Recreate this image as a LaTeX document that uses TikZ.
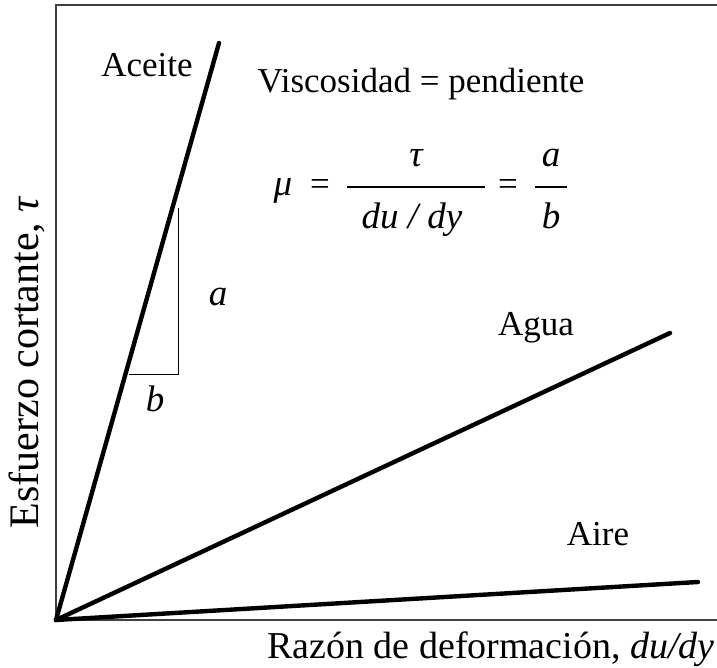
\documentclass[tikz,border=0pt]{standalone}
\usepackage{fontspec}
\setmainfont{Liberation Serif}
\usetikzlibrary{positioning}

\begin{document}
\begin{tikzpicture}[x=0.5pt,y=-0.5pt,
	curve/.style={line width=2.2pt,line cap=round},
	frame/.style={draw=black!75,line width=0.75pt},
	lbl/.style={inner sep=0pt,anchor=base,font=\fontsize{17.5}{21}\selectfont},
	mth/.style={lbl,font=\fontsize{18.5}{22}\selectfont\itshape}] 
	
	\useasboundingbox (0,0) rectangle (717,668);
	
	%Axes
	\coordinate (O) at (56,620);
	\coordinate (ytop) at (56,5);
	\coordinate (xend) at (717,620);
	\draw[frame] (717,5) -- (ytop) -- (O) -- (xend);
	
	%Fluid lines
	\coordinate (aceite) at (219,43);
	\coordinate (agua) at (670,333);
	\coordinate (aire) at (698,582);
	\draw[curve] (O) -- (aceite);
	\draw[curve] (O) -- (agua);
	\draw[curve] (O) -- (aire);
	
	%Slope triangle
	\coordinate (tri_t) at (178,208);
	\coordinate (tri_c) at (178,374);
	\coordinate (tri_l) at (129,374);
	\draw[line width=0.5pt] (tri_t) -- (tri_c) -- (tri_l);
	\node[mth] (a) at (218,305) {a};
	\node[mth] (b) at (155,411) {b};
	
	%Labels
	\node[lbl] (l_aceite) at (147,77) {Aceite};
	\node[lbl] (l_agua) at (536,335) {Agua};
	\node[lbl] (l_aire) at (598,545) {Aire};
	\node[lbl] (visc) at (421,93) {Viscosidad = pendiente};
	
	%Formula
	\node[mth] (mu) at (283,196) {μ};
	\node[lbl] (eq1) at (320,196) {=};
	\draw[line width=0.7pt] (347,187) -- (485,187);
	\node[mth] (tau) at (416,167) {τ};
	\node[mth] (dudy) at (412,228) {du / dy};
	\node[lbl] (eq2) at (508,196) {=};
	\draw[line width=0.7pt] (535,187) -- (567,187);
	\node[mth] (fa) at (551,167) {a};
	\node[mth] (fb) at (551,228) {b};
	
	%Axis titles
	\node[lbl,rotate=90,font=\fontsize{21}{25}\selectfont] (ylbl) at (38,362) {Esfuerzo cortante, \textit{τ}};
	\node[lbl,anchor=base east,font=\fontsize{19}{23}\selectfont] (xlbl) at (715,658) {Razón de deformación, \textit{du/dy}};
	
\end{tikzpicture}
\end{document}
